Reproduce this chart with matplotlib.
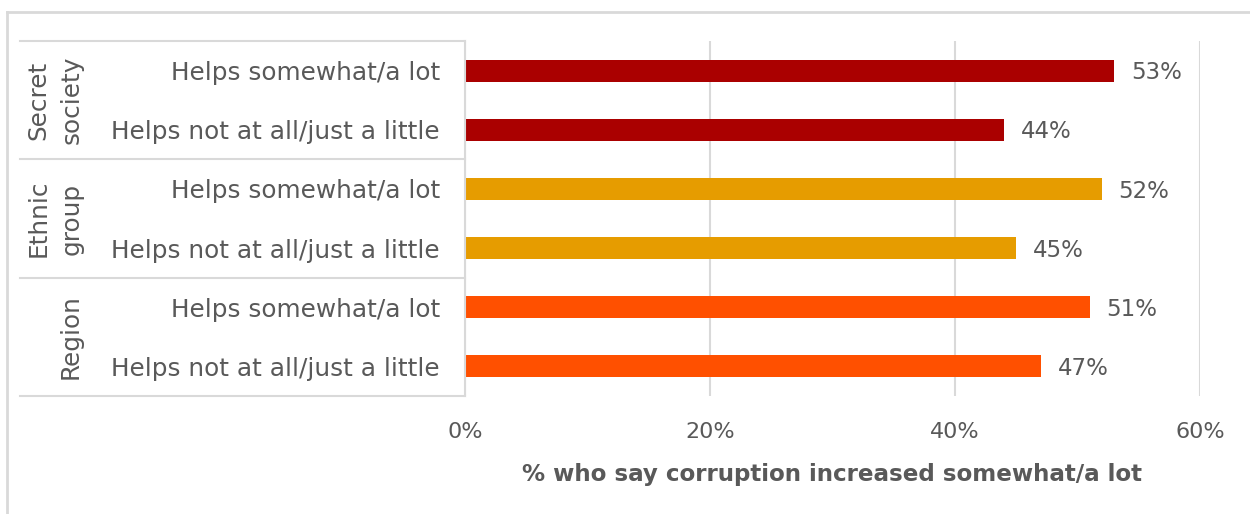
import numpy as np
import matplotlib

matplotlib.use('Agg')
import matplotlib.pyplot as plt
from matplotlib.lines import Line2D

# categories, top to bottom
groups = ["Secret\nsociety", "Ethnic\ngroup", "Region"]
answers = ["Helps somewhat/a lot", "Helps not at all/just a little"]
values = [53, 44, 52, 45, 51, 47]
group_colors = ["#AA0000", "#E69C00", "#FF5000"]
x_ticks = [0, 20, 40, 60]
x_label = "% who say corruption increased somewhat/a lot"

TEXT = "#595959"
LINE = "#D9D9D9"

plt.rcParams['font.family'] = ['DejaVu Sans']

W, H = 1250, 514
fig = plt.figure(figsize=(W / 100, H / 100), dpi=100)

# plot area in pixel units
left_px, right_px, top_px, bottom_px = 465, 1200, 41, 396
ax = fig.add_axes([left_px / W, 1 - bottom_px / H,
                   (right_px - left_px) / W, (bottom_px - top_px) / H])

labels = answers * len(groups)
colors = [c for c in group_colors for _ in answers]
y = np.arange(len(values))

ax.barh(y, values, height=0.37, color=colors, zorder=3)
ax.set_ylim(len(values) - 0.5, -0.5)
ax.set_xlim(0, 60)

for yi, v in zip(y, values):
    ax.annotate(f"{v}%", (v, yi), xytext=(12, -1.5), textcoords='offset points',
                ha='left', va='center', fontsize=16.5, color=TEXT)

ax.set_xticks(x_ticks)
ax.set_xticklabels([f"{t}%" for t in x_ticks], fontsize=16, color=TEXT)
ax.tick_params(axis='x', length=0, pad=19)
ax.set_yticks(y)
ax.set_yticklabels(labels, fontsize=17.8, color=TEXT)
ax.tick_params(axis='y', length=0, pad=18)
ax.set_xlabel(x_label, fontsize=16.6, fontweight='bold', color=TEXT, labelpad=15)

ax.grid(axis='x', color=LINE, linewidth=1.5, zorder=0)
for s in ax.spines.values():
    s.set_visible(False)


def fig_line(xs, ys, **kw):
    fig.add_artist(Line2D([x / W for x in xs], [1 - v / H for v in ys],
                          color=LINE, linewidth=kw.get('lw', 1.5)))


# outer frame
fig_line([7, W], [12, 12], lw=2)
fig_line([7, 7], [12, H], lw=2)

# category table
rows_px = (bottom_px - top_px) / len(values)
for i in range(len(groups) + 1):
    yy = top_px + i * rows_px * len(answers)
    fig_line([20, left_px], [yy, yy])
fig_line([left_px, left_px], [top_px, bottom_px])

for i, g in enumerate(groups):
    yc = top_px + (i + 0.5) * rows_px * len(answers)
    xc = 55 if "\n" in g else 71
    fig.text(xc / W, 1 - yc / H, g, rotation=90, ha='center', va='center',
             fontsize=17.8, color=TEXT, linespacing=1.45)

fig.savefig("out.png", dpi=100)
